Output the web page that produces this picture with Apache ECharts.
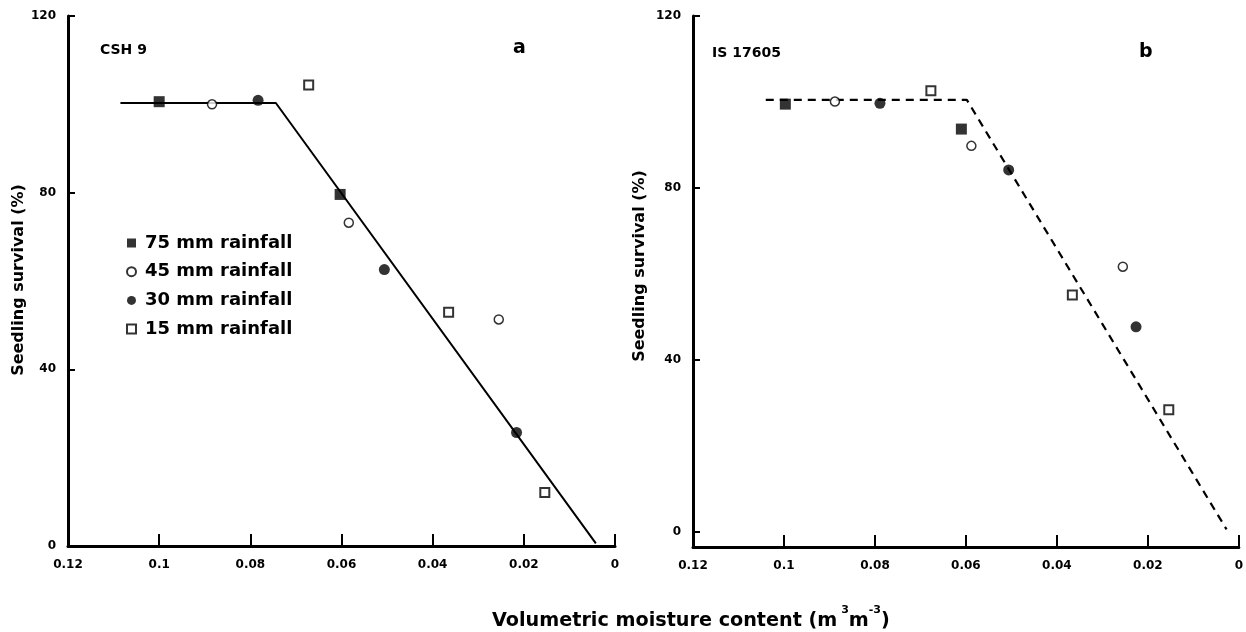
<!DOCTYPE html>
<html><head><meta charset="utf-8">
<script src="https://cdn.jsdelivr.net/npm/echarts@6/dist/echarts.min.js"></script>
<style>html,body{margin:0;padding:0;background:#fff}#c{width:1246px;height:632px}</style>
</head><body><div id="c"></div>
<script>
const seriesNames = ['75 mm rainfall', '45 mm rainfall', '30 mm rainfall', '15 mm rainfall'];
const xTicks = [0.12, 0.1, 0.08, 0.06, 0.04, 0.02, 0];
const yTicks = [0, 40, 80, 120];
// Panel a: CSH 9
const a75 = [[0.100, 100.6], [0.0603, 79.6]];
const a45 = [[0.0884, 100.0], [0.0584, 73.2], [0.0255, 51.3]];
const a30 = [[0.0783, 100.9], [0.0506, 62.6], [0.0216, 25.7]];
const a15 = [[0.0672, 104.4], [0.0365, 52.9], [0.0154, 12.1]];
const aFit = [[0.1085, 100.3], [0.0744, 100.3], [0.0042, 0.6]];
// Panel b: IS 17605
const b75 = [[0.0997, 99.5], [0.0610, 93.7]];
const b45 = [[0.0888, 100.1], [0.0588, 89.8], [0.0255, 61.7]];
const b30 = [[0.0789, 99.7], [0.0506, 84.2], [0.0226, 47.7]];
const b15 = [[0.0677, 102.6], [0.0366, 55.1], [0.0154, 28.4]];
const bFit = [[0.104, 100.5], [0.0598, 100.5], [0.0027, 0.6]];

const F = 'DejaVu Sans';
const markerStyles = [
  { symbol: 'rect', symbolSize: 11, itemStyle: { color: '#000' } },
  { symbol: 'circle', symbolSize: 9, itemStyle: { color: '#fff', borderColor: '#000', borderWidth: 1.5 } },
  { symbol: 'circle', symbolSize: 11, itemStyle: { color: '#000' } },
  { symbol: 'rect', symbolSize: 9, itemStyle: { color: '#fff', borderColor: '#000', borderWidth: 2 } }
];

function xAxisCfg(g) {
  return {
    gridIndex: g, type: 'value', min: 0, max: 0.12, interval: 0.02, inverse: true,
    axisLine: { show: true, onZero: false, lineStyle: { color: '#000', width: 3 } },
    axisTick: { show: true, inside: true, length: 12, lineStyle: { color: '#000', width: 2 }, customValues: xTicks },
    axisLabel: { color: '#000', fontFamily: F, fontWeight: 'bold', fontSize: 12, margin: 13, customValues: xTicks,
      formatter: v => String(Number(v.toFixed(2))) },
    splitLine: { show: false }
  };
}
function yAxisCfg(g, min) {
  return {
    gridIndex: g, type: 'value', min: min, max: 120,
    axisLine: { show: true, onZero: false, lineStyle: { color: '#000', width: 3 } },
    axisTick: { show: true, inside: true, length: 7, lineStyle: { color: '#000', width: 2 }, customValues: yTicks },
    axisLabel: { color: '#000', fontFamily: F, fontWeight: 'bold', fontSize: 12, margin: 12, customValues: yTicks },
    splitLine: { show: false }
  };
}

const panelA = [a75, a45, a30, a15];
const panelB = [b75, b45, b30, b15];
const series = [];
series.push({ type: 'line', xAxisIndex: 0, yAxisIndex: 0, data: aFit, showSymbol: false, silent: true, z: 1,
  lineStyle: { color: '#000', width: 2 } });
series.push({ type: 'line', xAxisIndex: 1, yAxisIndex: 1, data: bFit, showSymbol: false, silent: true, z: 1,
  lineStyle: { color: '#000', width: 2.2, type: [8, 6] } });
[panelA, panelB].forEach((panel, g) => {
  panel.forEach((d, i) => {
    series.push(Object.assign({ type: 'scatter', name: seriesNames[i], xAxisIndex: g, yAxisIndex: g, data: d, z: 3 },
      JSON.parse(JSON.stringify(markerStyles[i]))));
  });
});

const chart = echarts.init(document.getElementById('c'));
chart.setOption({
  backgroundColor: '#fff',
  animation: false,
  grid: [
    { left: 68, top: 16, width: 547, height: 530 },
    { left: 693, top: 16, width: 547, height: 531 }
  ],
  xAxis: [xAxisCfg(0), xAxisCfg(1)],
  yAxis: [yAxisCfg(0, 0), yAxisCfg(1, -3.5)],
  legend: {
    data: seriesNames, orient: 'vertical', left: 121, top: 228, itemWidth: 9, itemHeight: 9, itemGap: 8.7,
    textStyle: { color: '#000', fontFamily: F, fontWeight: 'bold', fontSize: 18, lineHeight: 20, padding: [0, 0, 0, 4] }
  },
  graphic: [
    { type: 'text', x: 19, y: 280, rotation: Math.PI / 2,
      style: { text: 'Seedling survival (%)', fill: '#000', font: 'bold 16px "DejaVu Sans"', align: 'center', verticalAlign: 'middle' } },
    { type: 'text', x: 640, y: 266, rotation: Math.PI / 2,
      style: { text: 'Seedling survival (%)', fill: '#000', font: 'bold 16px "DejaVu Sans"', align: 'center', verticalAlign: 'middle' } },
    { type: 'text', x: 100, y: 50,
      style: { text: 'CSH 9', fill: '#000', font: 'bold 14px "DejaVu Sans"', align: 'left', verticalAlign: 'middle' } },
    { type: 'text', x: 513, y: 48,
      style: { text: 'a', fill: '#000', font: 'bold 19px "DejaVu Sans"', align: 'left', verticalAlign: 'middle' } },
    { type: 'text', x: 712, y: 53,
      style: { text: 'IS 17605', fill: '#000', font: 'bold 14px "DejaVu Sans"', align: 'left', verticalAlign: 'middle' } },
    { type: 'text', x: 1139, y: 52,
      style: { text: 'b', fill: '#000', font: 'bold 19px "DejaVu Sans"', align: 'left', verticalAlign: 'middle' } },
    { type: 'text', left: 492, top: 605,
      style: {
        text: '{m|Volumetric moisture content (m}{s| 3}{m|m}{s|-3}{m|)}',
        fill: '#000',
        rich: {
          m: { fontSize: 19.2, fontWeight: 'bold', fontFamily: F, lineHeight: 26, verticalAlign: 'bottom', fill: '#000' },
          s: { fontSize: 11, fontWeight: 'bold', fontFamily: F, lineHeight: 26, verticalAlign: 'top', fill: '#000' }
        }
      } }
  ],
  series: series
});
</script></body></html>
